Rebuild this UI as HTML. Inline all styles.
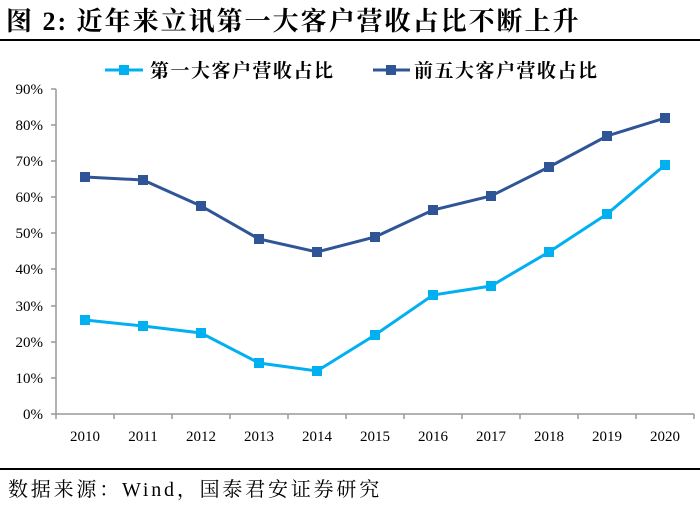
<!DOCTYPE html><html><head><meta charset="utf-8"><style>body{margin:0;background:#fff;width:700px;height:508px;overflow:hidden}</style></head><body>
<svg width="700" height="508" xmlns="http://www.w3.org/2000/svg" font-family="Liberation Serif, Noto Serif CJK SC, serif">
<text x="6" y="30" font-size="26" font-weight="bold" letter-spacing="2">图 2:  近年来立讯第一大客户营收占比不断上升</text>
<rect x="0" y="39" width="700" height="2" fill="#000"/>
<line x1="105" y1="70" x2="143" y2="70" stroke="#00b0f0" stroke-width="3"/><rect x="119" y="65" width="10" height="10" fill="#00b0f0"/>
<text x="150" y="77" font-size="19" font-weight="bold" letter-spacing="1.5">第一大客户营收占比</text>
<line x1="373" y1="70" x2="410" y2="70" stroke="#2f5597" stroke-width="3"/><rect x="386" y="65" width="10" height="10" fill="#2f5597"/>
<text x="414" y="77" font-size="19" font-weight="bold" letter-spacing="1.5">前五大客户营收占比</text>
<g stroke="#999" stroke-width="1.5" fill="none">
<line x1="56" y1="89" x2="56" y2="414"/><line x1="56" y1="414" x2="694" y2="414"/>
<path d="M51 89h5M51 125h5M51 161h5M51 197h5M51 233h5M51 269h5M51 306h5M51 342h5M51 378h5M51 414h5"/>
<path d="M56 414v5M114 414v5M172 414v5M230 414v5M288 414v5M346 414v5M404 414v5M462 414v5M520 414v5M578 414v5M636 414v5M694 414v5"/>
</g>
<g font-size="15" text-anchor="end"><text x="43" y="94">90%</text><text x="43" y="130">80%</text><text x="43" y="166">70%</text><text x="43" y="202">60%</text><text x="43" y="238">50%</text><text x="43" y="274">40%</text><text x="43" y="311">30%</text><text x="43" y="347">20%</text><text x="43" y="383">10%</text><text x="43" y="419">0%</text></g>
<g font-size="15" text-anchor="middle"><text x="85" y="441">2010</text><text x="143" y="441">2011</text><text x="201" y="441">2012</text><text x="259" y="441">2013</text><text x="317" y="441">2014</text><text x="375" y="441">2015</text><text x="433" y="441">2016</text><text x="491" y="441">2017</text><text x="549" y="441">2018</text><text x="607" y="441">2019</text><text x="665" y="441">2020</text></g>
<polyline fill="none" stroke="#2f5597" stroke-width="3" points="85,177 143,180 201,206 259,239 317,252 375,237 433,210 491,196 549,167 607,136 665,118"/>
<g fill="#2f5597"><rect x="80" y="172" width="10" height="10"/><rect x="138" y="175" width="10" height="10"/><rect x="196" y="201" width="10" height="10"/><rect x="254" y="234" width="10" height="10"/><rect x="312" y="247" width="10" height="10"/><rect x="370" y="232" width="10" height="10"/><rect x="428" y="205" width="10" height="10"/><rect x="486" y="191" width="10" height="10"/><rect x="544" y="162" width="10" height="10"/><rect x="602" y="131" width="10" height="10"/><rect x="660" y="113" width="10" height="10"/></g>
<polyline fill="none" stroke="#00b0f0" stroke-width="3" points="85,320 143,326 201,333 259,363 317,371 375,335 433,295 491,286 549,252 607,214 665,165"/>
<g fill="#00b0f0"><rect x="80" y="315" width="10" height="10"/><rect x="138" y="321" width="10" height="10"/><rect x="196" y="328" width="10" height="10"/><rect x="254" y="358" width="10" height="10"/><rect x="312" y="366" width="10" height="10"/><rect x="370" y="330" width="10" height="10"/><rect x="428" y="290" width="10" height="10"/><rect x="486" y="281" width="10" height="10"/><rect x="544" y="247" width="10" height="10"/><rect x="602" y="209" width="10" height="10"/><rect x="660" y="160" width="10" height="10"/></g>
<rect x="0" y="468" width="700" height="2" fill="#000"/>
<text x="8" y="496" font-size="20" letter-spacing="2.8">数据来源：Wind，国泰君安证券研究</text>
</svg></body></html>
